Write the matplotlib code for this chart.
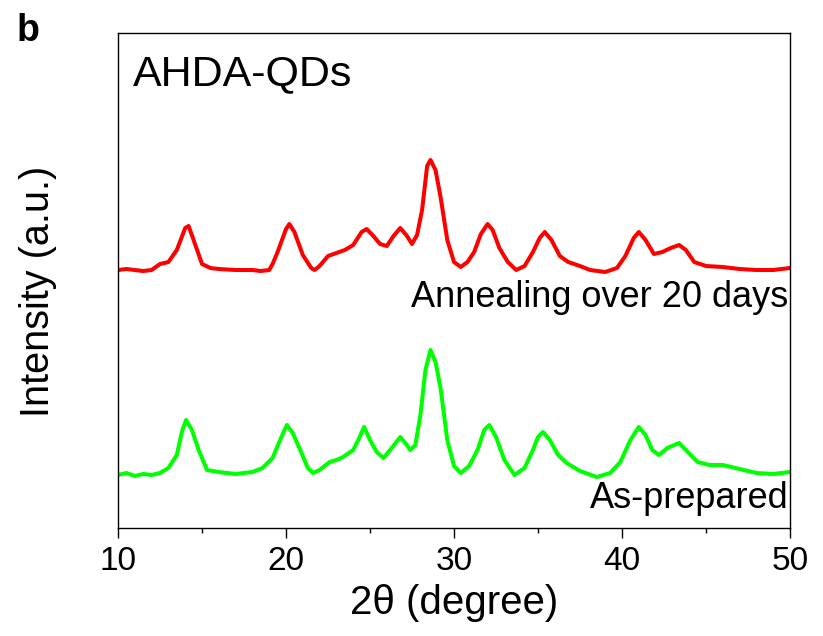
import numpy as np
import matplotlib
matplotlib.use("Agg")
import matplotlib.pyplot as plt

# XRD patterns (intensity in arbitrary units)
two_theta_annealed = [10.0, 10.5, 11.0, 11.5, 12.0, 12.5, 13.0, 13.5, 14.0, 14.2,
                      14.5, 15.0, 15.5, 16.0, 17.0, 18.0, 18.5, 19.0, 19.2, 19.5,
                      20.0, 20.2, 20.5, 21.0, 21.5, 21.7, 22.0, 22.5, 23.0, 23.5,
                      24.0, 24.5, 24.8, 25.2, 25.6, 26.0, 26.4, 26.8, 27.2, 27.5,
                      27.8, 28.1, 28.4, 28.6, 28.9, 29.2, 29.6, 30.0, 30.4, 30.8,
                      31.2, 31.6, 32.0, 32.3, 32.7, 33.2, 33.7, 34.2, 34.7, 35.1,
                      35.4, 35.8, 36.3, 36.8, 37.5, 38.1, 39.0, 39.7, 40.2, 40.7,
                      41.0, 41.4, 41.9, 42.4, 42.9, 43.4, 43.8, 44.3, 45.0, 46.0,
                      47.0, 48.0, 49.0, 50.0]
intensity_annealed = [258, 259, 258, 257, 258, 264, 266, 278, 300, 302,
                      288, 264, 260, 259, 258, 258, 257, 258, 264, 276,
                      299, 304, 296, 273, 260, 258, 262, 272, 275, 278,
                      283, 296, 299, 292, 284, 282, 292, 300, 292, 284,
                      293, 318, 362, 368, 358, 331, 288, 266, 261, 266,
                      276, 294, 304, 298, 280, 266, 258, 262, 276, 290,
                      296, 288, 272, 266, 262, 258, 256, 260, 272, 290,
                      296, 288, 274, 276, 280, 283, 278, 266, 262, 261,
                      259, 258, 258, 260]

two_theta_prepared = [10.0, 10.5, 11.0, 11.5, 12.0, 12.5, 13.0, 13.5, 13.8, 14.05,
                      14.4, 14.8, 15.3, 16.0, 17.0, 18.0, 18.6, 19.2, 19.7, 20.05,
                      20.4, 20.9, 21.3, 21.6, 22.0, 22.6, 23.0, 23.4, 24.0, 24.3,
                      24.65, 25.0, 25.4, 25.8, 26.2, 26.8, 27.1, 27.4, 27.7, 28.0,
                      28.3, 28.6, 28.9, 29.2, 29.6, 30.0, 30.4, 30.9, 31.4, 31.8,
                      32.1, 32.5, 33.0, 33.6, 34.2, 34.7, 35.0, 35.3, 35.7, 36.2,
                      36.7, 37.5, 38.5, 39.3, 39.9, 40.5, 41.0, 41.4, 41.8, 42.2,
                      42.7, 43.4, 43.8, 44.5, 45.2, 46.0, 47.0, 48.0, 49.0, 50.0]
intensity_prepared = [53, 55, 52, 54, 53, 55, 60, 73, 96, 108,
                      98, 78, 58, 56, 54, 56, 60, 70, 90, 103,
                      95, 76, 60, 55, 58, 66, 68, 71, 78, 88,
                      101, 88, 76, 70, 78, 91, 85, 78, 83, 113,
                      158, 178, 166, 140, 88, 62, 55, 62, 78, 98,
                      103, 91, 68, 53, 60, 78, 91, 96, 88, 73,
                      65, 57, 51, 55, 66, 88, 101, 93, 78, 73,
                      80, 85, 78, 66, 63, 63, 59, 55, 54, 56]

x_ticks = [10, 20, 30, 40, 50]
x_minor_ticks = [15, 25, 35, 45]

plt.rcParams["font.family"] = ["Liberation Sans", "DejaVu Sans"]

fig = plt.figure(figsize=(8.23, 6.36), dpi=100)
ax = fig.add_axes([0.1434, 0.1698, 0.8165, 0.7783])

ax.plot(two_theta_annealed, intensity_annealed, color="#ff0000", lw=2.9)
ax.plot(two_theta_prepared, intensity_prepared, color="#00ff00", lw=2.9)

ax.set_xlim(10, 50)
ax.set_ylim(0, 495)
ax.set_xticks(x_ticks)
ax.set_xticks(x_minor_ticks, minor=True)
ax.set_yticks([])
ax.tick_params(axis="x", which="major", direction="out", length=7, width=1.0,
               labelsize=24, pad=6)
ax.tick_params(axis="x", which="minor", direction="out", length=3.5, width=1.0)
for sp in ax.spines.values():
    sp.set_linewidth(1.0)

ax.set_xlabel("2θ (degree)", fontsize=29, labelpad=5)
ax.set_ylabel("Intensity (a.u.)", fontsize=28.5)
ax.yaxis.set_label_coords(-0.091, 0.479)

ax.text(49.9, 221, "Annealing over 20 days", fontsize=26, ha="right", va="baseline")
ax.text(49.9, 20, "As-prepared", fontsize=26, ha="right", va="baseline")
ax.text(0.022, 0.895, "AHDA-QDs", transform=ax.transAxes, fontsize=31,
        ha="left", va="baseline")
fig.text(0.02, 0.935, "b", fontsize=27, fontweight="bold", ha="left", va="baseline")

fig.savefig("out.png", dpi=100)
